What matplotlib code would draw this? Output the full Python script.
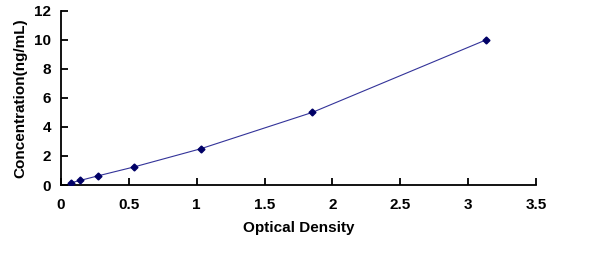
import numpy as np
import matplotlib
matplotlib.use("Agg")
import matplotlib.pyplot as plt

OD = [0.074, 0.14, 0.27, 0.54, 1.03, 1.85, 3.13]
CONC = [0.156, 0.3125, 0.625, 1.25, 2.5, 5.0, 10.0]
X_TICKS = [0, 0.5, 1, 1.5, 2, 2.5, 3, 3.5]
Y_TICKS = [0, 2, 4, 6, 8, 10, 12]

NAVY = "#000066"

plt.rcParams['font.family'] = ['Liberation Sans', 'DejaVu Sans']
plt.rcParams['font.weight'] = 'bold'

fig = plt.figure(figsize=(6.0, 2.68), dpi=100)
ax = fig.add_axes([0.1017, 0.3097, 0.7916, 0.6493])

ax.plot(OD, CONC, '-', color="#333399", lw=0.8, zorder=2)
ax.plot(OD, CONC, 'D', color=NAVY, ms=3.5, zorder=3)

ax.set_xlim(0, 3.5)
ax.set_ylim(0, 12)
ax.set_xticks(X_TICKS)
ax.set_xticklabels([f"{t:g}" for t in X_TICKS])
ax.set_yticks(Y_TICKS)

for side in ('top', 'right'):
    ax.spines[side].set_visible(False)
for side in ('left', 'bottom'):
    ax.spines[side].set_linewidth(1.3)

ax.tick_params(direction='in', length=5, width=1.3, labelsize=11)
ax.tick_params(axis='x', pad=9)
ax.tick_params(axis='y', pad=7)
for lab in ax.get_xticklabels() + ax.get_yticklabels():
    lab.set_fontweight('bold')

ax.set_xlabel("Optical Density", fontsize=11, fontweight='bold', labelpad=7)
ax.set_ylabel("Concentration(ng/mL)", fontsize=11, fontweight='bold', labelpad=5)

fig.savefig("out.png", dpi=100)
